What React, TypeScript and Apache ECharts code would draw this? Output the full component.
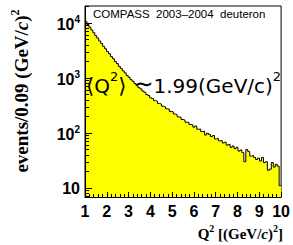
import React, { useEffect, useRef } from "react";
import * as echarts from "echarts";

// Histogram: 100 bins of width 0.09 from Q^2 = 1 to 10
const BIN_START = 1.0;
const BIN_WIDTH = 0.09;
const counts = [
  10590, 9400, 8420, 7450, 6680, 5900, 5320, 4710, 4260, 3770,
  3400, 3020, 2760, 2450, 2240, 1990, 1830, 1630, 1500, 1350,
  1240, 1110, 1030, 935, 875, 790, 740, 668, 635, 580,
  552, 500, 480, 436, 422, 388, 378, 345, 336, 308,
  300, 276, 272, 247, 243, 222, 216, 197, 193, 176,
  172, 157, 156, 143, 141, 128, 134, 117, 118, 106,
  108, 92, 99, 94, 86, 90, 78, 80, 72, 73,
  66, 68, 60, 62, 55, 58, 52, 55, 47, 49,
  44, 30, 50, 46, 38, 39, 36, 33, 35, 31,
  36, 29, 30, 21, 22, 29, 24, 27, 25, 11,
];

const xMin = 1;
const xMax = 10;
const xInterval = 1;
const yMin = 6.86;
const yMax = 20400;
const yMajorTicks = [10, 100, 1000, 10000];
const yMinorTicks = [
  7, 8, 9,
  20, 30, 40, 50, 60, 70, 80, 90,
  200, 300, 400, 500, 600, 700, 800, 900,
  2000, 3000, 4000, 5000, 6000, 7000, 8000, 9000,
  20000,
];

const titleText = "COMPASS  2003\u20132004  deuteron";
const meanQ2 = "1.99";

export default function App() {
  const ref = useRef<HTMLDivElement>(null);

  useEffect(() => {
    const chart = echarts.init(ref.current!, null, { renderer: "svg" });

    const data: number[][] = counts.map((c, i) => [
      +(BIN_START + i * BIN_WIDTH).toFixed(2),
      c,
    ]);
    data.push([
      +(BIN_START + counts.length * BIN_WIDTH).toFixed(2),
      counts[counts.length - 1],
    ]);

    const sans = "Liberation Sans, Arial, sans-serif";
    const serif = "Liberation Serif, Times New Roman, serif";

    chart.setOption({
      animation: false,
      backgroundColor: "#ffffff",
      grid: {
        left: 85,
        top: 6,
        width: 198,
        height: 191,
        show: true,
        borderColor: "#000",
        borderWidth: 1,
        backgroundColor: "#fff",
      },
      xAxis: {
        type: "value",
        min: xMin,
        max: xMax,
        interval: xInterval,
        z: 10,
        axisLine: { show: true, lineStyle: { color: "#000", width: 1 } },
        axisTick: { show: true, inside: true, length: 5, lineStyle: { color: "#000" } },
        minorTick: { show: true, splitNumber: 5, length: 3, lineStyle: { color: "#000" } },
        splitLine: { show: false },
        axisLabel: {
          color: "#000",
          fontFamily: sans,
          fontWeight: "bold",
          fontSize: 16,
          margin: 6,
        },
      },
      yAxis: [
        {
          type: "log",
          logBase: 10,
          min: yMin,
          max: yMax,
          z: 10,
          axisLine: { show: true, lineStyle: { color: "#000", width: 1 } },
          axisTick: {
            show: true,
            inside: true,
            length: 7,
            customValues: yMajorTicks,
            lineStyle: { color: "#000" },
          },
          splitLine: { show: false },
          axisLabel: {
            customValues: yMajorTicks,
            margin: 5,
            formatter: (v: number) => {
              const e = Math.round(Math.log10(v));
              return e === 1 ? "{b|10}" : "{b|10}{s|" + e + "}";
            },
            rich: {
              b: {
                fontFamily: sans,
                fontWeight: "bold",
                fontSize: 16,
                color: "#000",
                lineHeight: 18,
                verticalAlign: "bottom",
              },
              s: {
                fontFamily: sans,
                fontWeight: "bold",
                fontSize: 10,
                color: "#000",
                lineHeight: 12,
                verticalAlign: "top",
              },
            },
          },
        },
        {
          type: "log",
          logBase: 10,
          min: yMin,
          max: yMax,
          position: "left",
          z: 10,
          axisLine: { show: false },
          axisTick: {
            show: true,
            inside: true,
            length: 4,
            customValues: yMinorTicks,
            lineStyle: { color: "#000" },
          },
          axisLabel: { show: false },
          splitLine: { show: false },
        },
      ],
      series: [
        {
          type: "line",
          step: "end",
          data,
          yAxisIndex: 0,
          symbol: "none",
          lineStyle: { color: "#000", width: 1 },
          areaStyle: { color: "#ffff00", opacity: 1, origin: "start" },
          z: 2,
        },
      ],
      graphic: [
        {
          type: "text",
          z: 100,
          x: 93,
          y: 14,
          style: {
            text: titleText,
            fill: "#000",
            font: "11.5px " + sans,
            align: "left",
            verticalAlign: "middle",
            textAlign: "left",
            textVerticalAlign: "middle",
          },
        },
        {
          type: "text",
          z: 100,
          x: 86,
          y: 83,
          style: {
            text:
              "{a|\u27E8}{q|Q}{s|2}{a|\u27E9}{t|\u223C}{q|" +
              meanQ2 +
              "(GeV/c)}{s|2}",
            align: "left",
            verticalAlign: "middle",
            textAlign: "left",
            textVerticalAlign: "middle",
            rich: {
              a: {
                fontFamily: "DejaVu Sans",
                fontSize: 21,
                color: "#000",
                lineHeight: 26,
                verticalAlign: "bottom",
              },
              q: {
                fontFamily: "DejaVu Sans",
                fontSize: 20,
                color: "#000",
                lineHeight: 26,
                verticalAlign: "bottom",
              },
              s: {
                fontFamily: "DejaVu Sans",
                fontSize: 13,
                color: "#000",
                lineHeight: 14,
                verticalAlign: "top",
              },
              t: {
                fontFamily: "DejaVu Sans",
                fontSize: 24,
                color: "#000",
                lineHeight: 26,
                verticalAlign: "bottom",
                padding: [0, 0, 0, 7],
              },
            },
          },
        },
        {
          type: "text",
          z: 100,
          x: 20,
          y: 91,
          rotation: Math.PI / 2,
          style: {
            text: "{n|events/0.09 (GeV/}{i|c}{n|)}{s|2}",
            align: "center",
            verticalAlign: "middle",
            textAlign: "center",
            textVerticalAlign: "middle",
            rich: {
              n: {
                fontFamily: serif,
                fontWeight: "bold",
                fontSize: 19,
                color: "#000",
                lineHeight: 22,
                verticalAlign: "bottom",
              },
              i: {
                fontFamily: serif,
                fontWeight: "bold",
                fontStyle: "italic",
                fontSize: 19,
                color: "#000",
                lineHeight: 22,
                verticalAlign: "bottom",
              },
              s: {
                fontFamily: serif,
                fontWeight: "bold",
                fontSize: 12,
                color: "#000",
                lineHeight: 13,
                verticalAlign: "top",
              },
            },
          },
        },
        {
          type: "text",
          z: 100,
          x: 283,
          y: 232,
          style: {
            text: "{n|Q}{s|2}{n| [(GeV/}{i|c}{n|)}{s|2}{n|]}",
            align: "right",
            verticalAlign: "middle",
            textAlign: "right",
            textVerticalAlign: "middle",
            rich: {
              n: {
                fontFamily: serif,
                fontWeight: "bold",
                fontSize: 15,
                color: "#000",
                lineHeight: 18,
                verticalAlign: "bottom",
              },
              i: {
                fontFamily: serif,
                fontWeight: "bold",
                fontStyle: "italic",
                fontSize: 15,
                color: "#000",
                lineHeight: 18,
                verticalAlign: "bottom",
              },
              s: {
                fontFamily: serif,
                fontWeight: "bold",
                fontSize: 10,
                color: "#000",
                lineHeight: 11,
                verticalAlign: "top",
              },
            },
          },
        },
      ],
    });

    return () => chart.dispose();
  }, []);

  return (
    <div
      ref={ref}
      style={{ position: "fixed", left: 0, top: 0, width: 293, height: 245 }}
    />
  );
}
